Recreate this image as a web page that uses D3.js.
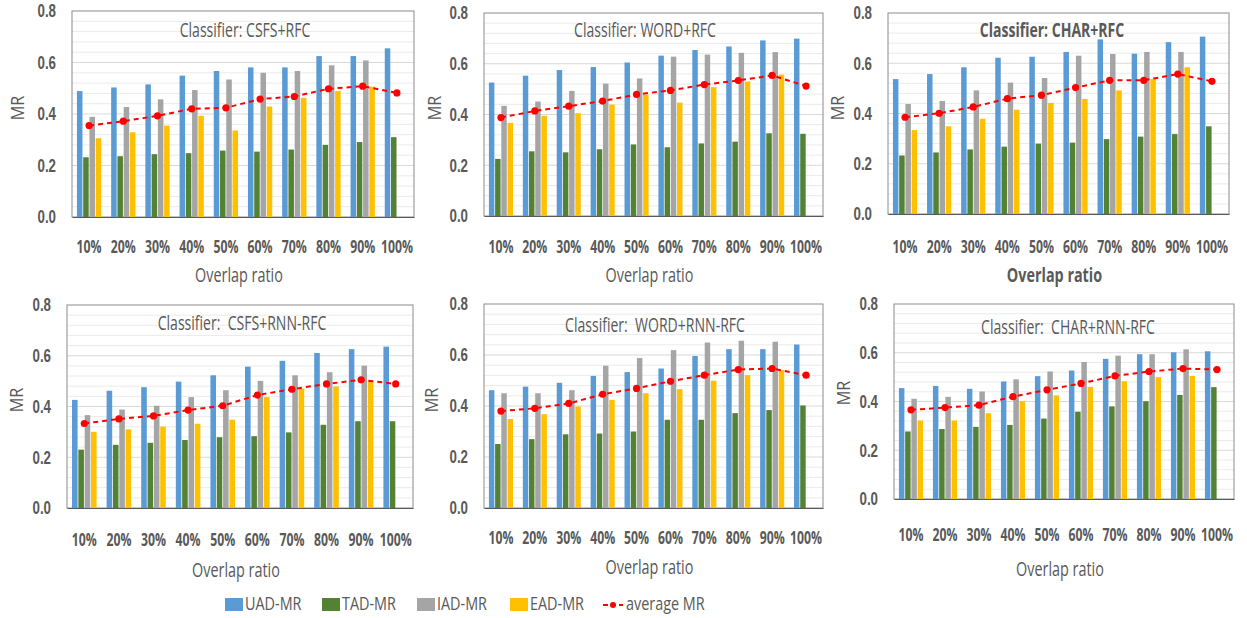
<!DOCTYPE html>
<html>
<head>
<meta charset="utf-8">
<script src="https://cdn.jsdelivr.net/npm/d3@7"></script>
<style>
  body { margin: 0; background: #fff; }
  svg { display: block; font-family: "Open Sans", sans-serif; }
</style>
</head>
<body>
<svg id="chart" width="1247" height="618"></svg>
<script>
"use strict";

// ---- data ----
const categories = ["10%", "20%", "30%", "40%", "50%", "60%", "70%", "80%", "90%", "100%"];
const series = ["UAD-MR", "TAD-MR", "IAD-MR", "EAD-MR"];
const titles = [
    "Classifier: CSFS+RFC", "Classifier: WORD+RFC", "Classifier: CHAR+RFC",
    "Classifier:  CSFS+RNN-RFC", "Classifier:  WORD+RNN-RFC", "Classifier:  CHAR+RNN-RFC"
];
const yTicks = [0, 0.2, 0.4, 0.6, 0.8];

const uadMR = [
    [0.489, 0.503, 0.515, 0.549, 0.567, 0.581, 0.581, 0.625, 0.625, 0.655],
    [0.526, 0.553, 0.575, 0.587, 0.605, 0.632, 0.654, 0.668, 0.692, 0.699],
    [0.537, 0.557, 0.584, 0.622, 0.626, 0.645, 0.695, 0.638, 0.684, 0.706],
    [0.426, 0.462, 0.476, 0.498, 0.523, 0.557, 0.580, 0.611, 0.626, 0.636],
    [0.462, 0.476, 0.491, 0.518, 0.533, 0.547, 0.596, 0.623, 0.623, 0.641],
    [0.455, 0.464, 0.452, 0.482, 0.504, 0.527, 0.575, 0.594, 0.602, 0.606]
];
const tadMR = [
    [0.232, 0.236, 0.244, 0.248, 0.258, 0.254, 0.262, 0.280, 0.291, 0.310],
    [0.225, 0.255, 0.251, 0.263, 0.282, 0.271, 0.286, 0.293, 0.326, 0.324],
    [0.233, 0.245, 0.257, 0.268, 0.280, 0.284, 0.298, 0.308, 0.318, 0.349],
    [0.230, 0.249, 0.257, 0.268, 0.279, 0.283, 0.298, 0.328, 0.342, 0.342],
    [0.251, 0.270, 0.289, 0.292, 0.300, 0.346, 0.346, 0.372, 0.384, 0.402],
    [0.277, 0.287, 0.296, 0.304, 0.330, 0.358, 0.380, 0.401, 0.427, 0.459]
];
const iadMR = [
    [0.389, 0.427, 0.457, 0.493, 0.534, 0.560, 0.567, 0.589, 0.608, null],
    [0.434, 0.451, 0.493, 0.522, 0.542, 0.628, 0.636, 0.643, 0.646, null],
    [0.438, 0.450, 0.492, 0.523, 0.541, 0.630, 0.637, 0.645, 0.645, null],
    [0.366, 0.388, 0.403, 0.437, 0.464, 0.501, 0.523, 0.535, 0.561, null],
    [0.450, 0.450, 0.462, 0.558, 0.588, 0.619, 0.649, 0.656, 0.652, null],
    [0.411, 0.419, 0.441, 0.491, 0.523, 0.562, 0.588, 0.594, 0.614, null]
];
const eadMR = [
    [0.306, 0.329, 0.355, 0.393, 0.336, 0.429, 0.463, 0.489, 0.506, null],
    [0.367, 0.395, 0.405, 0.439, 0.478, 0.447, 0.508, 0.530, 0.557, null],
    [0.334, 0.349, 0.379, 0.415, 0.442, 0.458, 0.492, 0.537, 0.584, null],
    [0.300, 0.310, 0.321, 0.332, 0.348, 0.437, 0.471, 0.479, 0.501, null],
    [0.349, 0.368, 0.398, 0.424, 0.450, 0.466, 0.499, 0.521, 0.541, null],
    [0.322, 0.322, 0.352, 0.401, 0.425, 0.460, 0.483, 0.500, 0.505, null]
];
const avgMR = [
    [0.355, 0.372, 0.393, 0.420, 0.424, 0.458, 0.468, 0.498, 0.508, 0.482],
    [0.388, 0.414, 0.433, 0.453, 0.479, 0.495, 0.518, 0.534, 0.554, 0.512],
    [0.385, 0.401, 0.426, 0.459, 0.473, 0.503, 0.532, 0.532, 0.557, 0.528],
    [0.333, 0.351, 0.363, 0.386, 0.403, 0.445, 0.468, 0.489, 0.505, 0.489],
    [0.380, 0.391, 0.410, 0.446, 0.469, 0.497, 0.521, 0.543, 0.547, 0.521],
    [0.366, 0.375, 0.385, 0.420, 0.448, 0.474, 0.505, 0.523, 0.535, 0.531]
];

// ---- layout ----
const colors = ["#5b9bd5", "#548235", "#a5a5a5", "#ffc000"];
const textColor = "#595959";

// plot-area box of each panel, plus where its labels sit
const panels = [
    { x0: 72,  x1: 414,  y0: 217, y1: 11,  labY: 247, axY: 275, mrX: 18,  mrY: 108, tX: 245,  tY: 30 },
    { x0: 484, x1: 823,  y0: 216, y1: 13,  labY: 247, axY: 275, mrX: 435, mrY: 108, tX: 645,  tY: 30 },
    { x0: 888, x1: 1229, y0: 214, y1: 13,  labY: 247, axY: 275, mrX: 838, mrY: 108, tX: 1052, tY: 30, bold: true },
    { x0: 67,  x1: 413,  y0: 508, y1: 305, labY: 540, axY: 570, mrX: 17,  mrY: 400, tX: 242,  tY: 323 },
    { x0: 484, x1: 823,  y0: 508, y1: 304, labY: 538, axY: 567, mrX: 432, mrY: 400, tX: 655,  tY: 325 },
    { x0: 894, x1: 1234, y0: 499, y1: 304, labY: 535, axY: 569, mrX: 844, mrY: 393, tX: 1068, tY: 327 }
];

// condensed text (the original uses a narrow font)
function label(parent, x, y, str, size, sx, opts = {}) {
    return parent.append("text")
        .attr("transform", `translate(${x},${y})${opts.rot ? " rotate(-90)" : ""} scale(${sx},1)`)
        .attr("dy", "0.35em")
        .attr("text-anchor", opts.anchor || "middle")
        .attr("font-size", size)
        .attr("font-weight", opts.bold ? "bold" : "normal")
        .attr("fill", textColor)
        .style("white-space", "pre")
        .text(str);
}

const svg = d3.select("#chart");

panels.forEach((p, i) => {
    const g = svg.append("g");

    const x = d3.scaleBand().domain(categories).range([p.x0, p.x1]).padding(0);
    const groupW = x.bandwidth() * 0.71;
    const xs = d3.scaleBand().domain(series).range([0, groupW]).paddingInner(0.12);
    const y = d3.scaleLinear().domain([0, 0.8]).range([p.y0, p.y1]);

    // gridlines (minor every 0.04, major every 0.2)
    const minor = d3.range(0.04, 0.8, 0.04);
    g.append("g").selectAll("line").data(minor).join("line")
        .attr("x1", p.x0).attr("x2", p.x1)
        .attr("y1", d => y(d)).attr("y2", d => y(d))
        .attr("stroke", d => Math.abs(d / 0.2 - Math.round(d / 0.2)) < 1e-6 ? "#d9d9d9" : "#ebebeb")
        .attr("stroke-width", 1);

    // plot frame
    g.append("rect")
        .attr("x", p.x0).attr("y", p.y1)
        .attr("width", p.x1 - p.x0).attr("height", p.y0 - p.y1)
        .attr("fill", "none").attr("stroke", "#8c8c8c").attr("stroke-width", 1);

    // bars
    const rows = categories.map((c, k) => ({
        cat: c,
        vals: [uadMR[i][k], tadMR[i][k], iadMR[i][k], eadMR[i][k]]
    }));
    const grp = g.append("g").selectAll("g").data(rows).join("g")
        .attr("transform", d => `translate(${x(d.cat) + (x.bandwidth() - groupW) / 2},0)`);
    grp.selectAll("rect")
        .data(d => d.vals.map((v, s) => ({ s: series[s], v, c: colors[s] })).filter(e => e.v != null))
        .join("rect")
        .attr("x", e => xs(e.s))
        .attr("width", xs.bandwidth())
        .attr("y", e => y(e.v))
        .attr("height", e => y(0) - y(e.v))
        .attr("fill", e => e.c);

    // x axis line
    g.append("g")
        .attr("transform", `translate(0,${p.y0})`)
        .call(d3.axisBottom(x).tickSize(0).tickFormat(""))
        .call(a => a.select(".domain").attr("stroke", "#595959").attr("stroke-width", 1.2));

    // x tick labels
    categories.forEach(c => label(g, x(c) + x.bandwidth() / 2, p.labY, c, 18, 0.68, { bold: true }));

    // y axis labels
    const sy = 0.74;
    g.append("g")
        .attr("transform", `translate(${p.x0},0)`)
        .call(d3.axisLeft(y).tickValues(yTicks).tickSize(0).tickPadding(16).tickFormat(d3.format(".1f")))
        .call(a => a.select(".domain").remove())
        .call(a => a.selectAll("text")
            .attr("font-family", null)
            .attr("x", -16 / sy)
            .attr("transform", `scale(${sy},1)`)
            .attr("font-size", 18).attr("font-weight", "bold")
            .attr("fill", textColor));

    // average line
    const line = d3.line()
        .x((d, k) => x(categories[k]) + x.bandwidth() / 2)
        .y(d => y(d));
    g.append("path")
        .attr("d", line(avgMR[i]))
        .attr("fill", "none")
        .attr("stroke", "#ff0000")
        .attr("stroke-width", 2)
        .attr("stroke-dasharray", "5,4");
    g.append("g").selectAll("circle").data(avgMR[i]).join("circle")
        .attr("cx", (d, k) => x(categories[k]) + x.bandwidth() / 2)
        .attr("cy", d => y(d))
        .attr("r", 3.6)
        .attr("fill", "#ff0000");

    // titles
    label(g, p.tX, p.tY, titles[i], 19.5, 0.72, { bold: p.bold });
    label(g, (p.x0 + p.x1) / 2 - 4, p.axY, "Overlap ratio", 20, 0.72, { bold: p.bold });
    label(g, p.mrX, p.mrY, "MR", 18, 0.9, { rot: true });
});

// ---- legend ----
const legendX = [225, 322, 417, 510];
const legend = svg.append("g");
series.forEach((s, k) => {
    legend.append("rect")
        .attr("x", legendX[k]).attr("y", 598)
        .attr("width", 18).attr("height", 13)
        .attr("fill", colors[k]);
    label(legend, legendX[k] + 20, 604, s, 18, 0.8, { anchor: "start" });
});
legend.append("line")
    .attr("x1", 603).attr("x2", 623).attr("y1", 605).attr("y2", 605)
    .attr("stroke", "#ff0000").attr("stroke-width", 2).attr("stroke-dasharray", "5,3");
legend.append("circle").attr("cx", 613).attr("cy", 605).attr("r", 3).attr("fill", "#ff0000");
label(legend, 626, 604, "average MR", 18, 0.8, { anchor: "start" });
</script>
</body>
</html>
